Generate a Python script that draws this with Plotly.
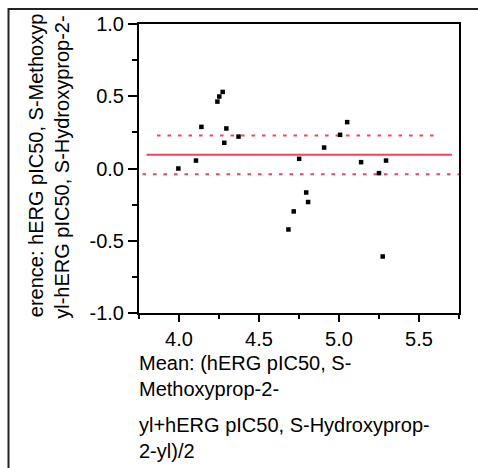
import plotly.graph_objects as go

# Bland-Altman style data
mean_vals = [3.996, 4.106, 4.140, 4.240, 4.252, 4.273, 4.283, 4.296, 4.372,
             4.684, 4.717, 4.751, 4.795, 4.807, 4.907, 5.007, 5.051, 5.138,
             5.250, 5.273, 5.294]
diff_vals = [0.000, 0.055, 0.288, 0.463, 0.498, 0.530, 0.178, 0.277, 0.221,
             -0.422, -0.297, 0.067, -0.166, -0.232, 0.145, 0.233, 0.321, 0.044,
             -0.032, -0.609, 0.055]

bias_x = [3.797, 5.705]
bias_y = [0.095, 0.095]
upper_x = [3.863, 5.616]
upper_y = [0.228, 0.228]
lower_x = [3.772, 5.75]
lower_y = [-0.039, -0.039]

x_ticks = [4.0, 4.5, 5.0, 5.5]
y_ticks = [-1.0, -0.5, 0.0, 0.5, 1.0]

y_title_lines = ["erence: hERG pIC50, S-Methoxyp",
                 "yl-hERG pIC50, S-Hydroxyprop-2-"]
x_title_blocks = ["Mean: (hERG pIC50, S-<br>Methoxyprop-2-",
                  "yl+hERG pIC50, S-Hydroxyprop-<br>2-yl)/2"]

FONT = "Liberation Sans, Arial, sans-serif"
RED = "#ef4262"

W, H = 478, 468
L, R, T, B = 139, 19, 24, 155
PW, PH = W - L - R, H - T - B


def px_x(p):
    return (p - L) / PW


def px_y(p):
    return (H - B - p) / PH


fig = go.Figure()
fig.add_trace(go.Scatter(x=lower_x, y=lower_y, mode="lines",
                         line=dict(color=RED, width=2, dash="3.5px,7px"),
                         hoverinfo="skip", showlegend=False))
fig.add_trace(go.Scatter(x=upper_x, y=upper_y, mode="lines",
                         line=dict(color=RED, width=2, dash="3.5px,7px"),
                         hoverinfo="skip", showlegend=False))
fig.add_trace(go.Scatter(x=bias_x, y=bias_y, mode="lines",
                         line=dict(color=RED, width=2),
                         hoverinfo="skip", showlegend=False))
fig.add_trace(go.Scatter(x=mean_vals, y=diff_vals, mode="markers",
                         marker=dict(symbol="square", size=4.5, color="black",
                                     line=dict(width=0)),
                         showlegend=False))

axis_common = dict(showline=True, linecolor="black", linewidth=2, mirror=True,
                   showgrid=False, zeroline=False, ticks="outside",
                   tickcolor="black", tickwidth=2, automargin=False,
                   tickfont=dict(family=FONT, size=20, color="black"))

fig.update_xaxes(range=[3.75, 5.75], tickvals=x_ticks,
                 ticktext=[f"{v:.1f}" for v in x_ticks], ticklen=7,
                 minor=dict(dtick=0.25, tick0=0, ticks="outside", ticklen=4,
                            tickwidth=2, tickcolor="black", showgrid=False),
                 **axis_common)
fig.update_yaxes(range=[-1, 1], tickvals=y_ticks,
                 ticktext=[f"{v:.1f}" for v in y_ticks], ticklen=9,
                 minor=dict(dtick=0.25, tick0=0, ticks="outside", ticklen=5,
                            tickwidth=2, tickcolor="black", showgrid=False),
                 **axis_common)

annotations = []
# rotated y-axis title lines
for txt, cx, cy in zip(y_title_lines, [35.7, 62.3], [165.5, 167.5]):
    annotations.append(dict(text=txt, xref="paper", yref="paper",
                            x=px_x(cx), y=px_y(cy), xanchor="center",
                            yanchor="middle", textangle=-90, showarrow=False,
                            font=dict(family=FONT, size=20, color="black")))
# x-axis title, two wrapped blocks
for txt, cy in zip(x_title_blocks, [376, 438]):
    annotations.append(dict(text=txt, xref="paper", yref="paper",
                            x=px_x(137), y=px_y(cy), xanchor="left",
                            yanchor="middle", align="left", showarrow=False,
                            font=dict(family=FONT, size=20, color="black")))

frame = dict(color="#222222", width=2)
fig.update_layout(
    template="none",
    width=W, height=H,
    margin=dict(l=L, r=R, t=T, b=B, pad=0),
    paper_bgcolor="white", plot_bgcolor="white",
    showlegend=False,
    annotations=annotations,
    shapes=[
        dict(type="line", xref="paper", yref="paper",
             x0=px_x(8), x1=px_x(490), y0=px_y(9), y1=px_y(9),
             line=frame, layer="above"),
        dict(type="line", xref="paper", yref="paper",
             x0=px_x(8.5), x1=px_x(8.5), y0=px_y(8), y1=px_y(490),
             line=frame, layer="above"),
    ],
)

fig.write_html("out.html")
